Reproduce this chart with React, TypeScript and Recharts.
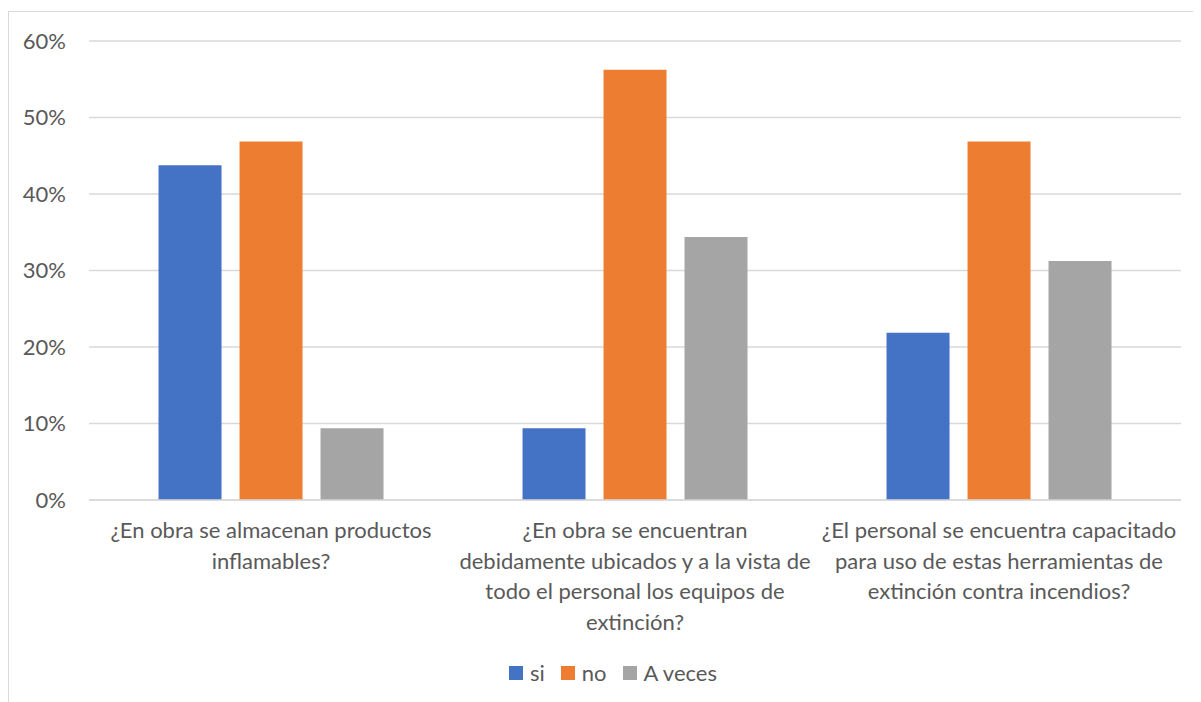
import React from 'react';
import { BarChart, Bar, XAxis, YAxis, CartesianGrid, Legend } from 'recharts';

const categories = [
  '¿En obra se almacenan productos\ninflamables?',
  '¿En obra se encuentran\ndebidamente ubicados y a la vista de\ntodo el personal los equipos de\nextinción?',
  '¿El personal se encuentra capacitado\npara uso de estas herramientas de\nextinción contra incendios?',
];
const siValues = [0.4375, 0.09375, 0.21875];
const noValues = [0.46875, 0.5625, 0.46875];
const aVecesValues = [0.09375, 0.34375, 0.3125];
const yTicks = [0, 0.1, 0.2, 0.3, 0.4, 0.5, 0.6];
const seriesNames = ['si', 'no', 'A veces'];
const seriesColors = ['#4472C4', '#ED7D31', '#A5A5A5'];

const data = categories.map((c, i) => ({
  category: c,
  si: siValues[i],
  no: noValues[i],
  aVeces: aVecesValues[i],
}));

const FONT = 'Lato, "Open Sans", sans-serif';
const FS = 22;
const TEXT = '#595959';

const CategoryTick = (props: any) => {
  const { x, y, payload } = props;
  const lines = String(payload.value).split('\n');
  return (
    <g transform={`translate(${x},${y})`}>
      <text textAnchor="middle" fill={TEXT} fontSize={FS} fontFamily={FONT}>
        {lines.map((l, i) => (
          <tspan key={i} x={0} y={32 + i * 30.5}>
            {l}
          </tspan>
        ))}
      </text>
    </g>
  );
};

const LegendContent = () => (
  <div style={{ display: 'flex', justifyContent: 'center', alignItems: 'center', height: 20, fontFamily: FONT, fontSize: FS, color: TEXT }}>
    {seriesNames.map((n, i) => (
      <div key={n} style={{ display: 'flex', alignItems: 'center', marginRight: i < 2 ? 16 : 0 }}>
        <div style={{ width: 14, height: 14, background: seriesColors[i], marginRight: 7 }} />
        <span style={{ lineHeight: '20px' }}>{n}</span>
      </div>
    ))}
  </div>
);

export default function App() {
  return (
    <div
      style={{
        marginTop: 3,
        width: 1193,
        height: 691,
        borderTop: '1px solid #d9d9d9',
        borderLeft: '1px solid #d9d9d9',
        boxSizing: 'border-box',
        overflow: 'hidden',
      }}
    >
      <BarChart
        width={1192}
        height={690}
        data={data}
        margin={{ top: 29, right: 20, left: 0, bottom: 32 }}
        barCategoryGap="19.1%"
        barGap={18}
      >
        <CartesianGrid vertical={false} stroke="#d9d9d9" strokeWidth={1.3} />
        <XAxis
          dataKey="category"
          tick={<CategoryTick />}
          tickLine={false}
          axisLine={{ stroke: '#d9d9d9', strokeWidth: 1.3 }}
          height={150}
          interval={0}
          tickMargin={0}
        />
        <YAxis
          width={80}
          domain={[0, 0.6]}
          ticks={yTicks}
          tickFormatter={(v: number) => `${Math.round(v * 100)}%`}
          axisLine={false}
          tickLine={false}
          tickMargin={17}
          tick={{ fill: TEXT, fontSize: FS, fontFamily: FONT }}
        />
        <Legend content={<LegendContent />} wrapperStyle={{ top: 651, left: 18, width: 1172, height: 20 }} />
        <Bar dataKey="si" name={seriesNames[0]} fill={seriesColors[0]} isAnimationActive={false} />
        <Bar dataKey="no" name={seriesNames[1]} fill={seriesColors[1]} isAnimationActive={false} />
        <Bar dataKey="aVeces" name={seriesNames[2]} fill={seriesColors[2]} isAnimationActive={false} />
      </BarChart>
    </div>
  );
}
